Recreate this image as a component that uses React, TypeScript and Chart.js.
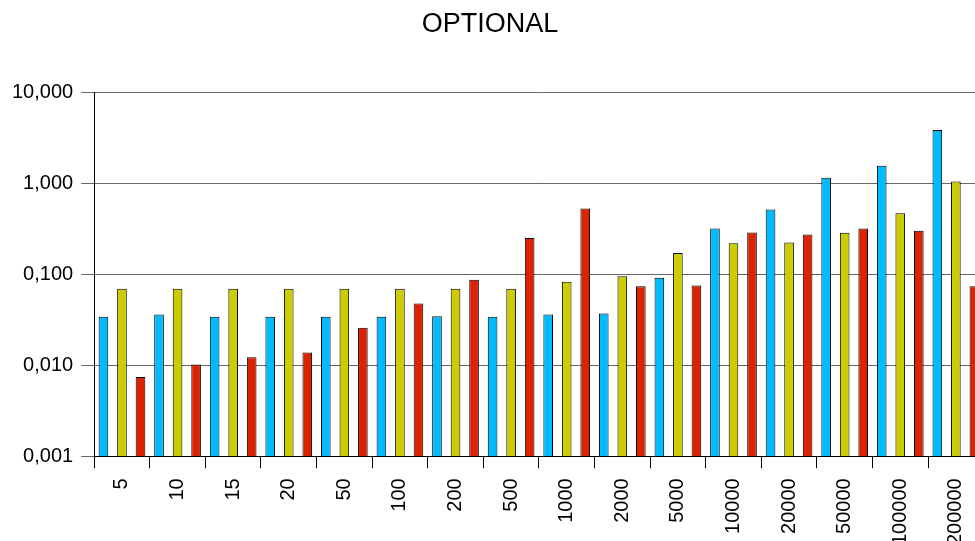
import React, { useEffect, useRef } from "react";
import { Chart, registerables } from "chart.js";

Chart.register(...registerables);

const categories = ["5", "10", "15", "20", "50", "100", "200", "500", "1000", "2000", "5000", "10000", "20000", "50000", "100000", "200000"];
const seriesBlue = [0.034, 0.036, 0.034, 0.034, 0.034, 0.034, 0.0345, 0.034, 0.036, 0.037, 0.091, 0.318, 0.514, 1.143, 1.549, 3.82];
const seriesYellow = [0.069, 0.069, 0.069, 0.069, 0.069, 0.069, 0.069, 0.069, 0.0824, 0.095, 0.171, 0.219, 0.223, 0.284, 0.465, 1.043];
const seriesRed = [0.0074, 0.0102, 0.0122, 0.0138, 0.0257, 0.0476, 0.0867, 0.25, 0.527, 0.0738, 0.0751, 0.287, 0.273, 0.318, 0.299, 0.0738];
const yTicks = [0.001, 0.01, 0.1, 1, 10];
const title = "OPTIONAL";

const FONT = "'Liberation Sans', Arial, sans-serif";

export default function App() {
  const ref = useRef<HTMLCanvasElement | null>(null);

  useEffect(() => {
    if (!ref.current) return;
    const mk = (label: string, data: number[], color: string) => ({
      label,
      data,
      backgroundColor: color,
      borderColor: "#000000",
      borderWidth: 1,
      categoryPercentage: 1,
      barPercentage: 0.52,
    });
    const chart = new Chart(ref.current, {
      type: "bar",
      data: {
        labels: categories,
        datasets: [
          mk("A", seriesBlue, "#00BBFF"),
          mk("B", seriesYellow, "#CCCC00"),
          mk("C", seriesRed, "#DD2200"),
        ],
      },
      options: {
        responsive: false,
        animation: false,
        layout: { padding: { top: 92, left: 4, right: 4.5, bottom: 0 } },
        plugins: {
          legend: { display: false },
          tooltip: { enabled: false },
          title: { display: false },
        },
        scales: {
          x: {
            offset: true,
            grid: {
              display: true,
              offset: true,
              drawOnChartArea: false,
              drawTicks: true,
              tickLength: 12,
              color: "#000000",
            },
            border: { display: true, color: "#000000", width: 1 },
            ticks: {
              autoSkip: false,
              minRotation: 90,
              maxRotation: 90,
              padding: 10,
              color: "#000000",
              font: { family: FONT, size: 20 },
            },
          },
          y: {
            type: "logarithmic",
            min: 0.001,
            max: 10,
            afterBuildTicks: (axis: any) => {
              axis.ticks = yTicks.map((v) => ({ value: v, major: true }));
            },
            grid: {
              color: "#666666",
              lineWidth: 1,
              drawTicks: true,
              tickLength: 13,
            },
            border: { display: true, color: "#000000", width: 1 },
            ticks: {
              padding: 8,
              color: "#000000",
              font: { family: FONT, size: 20 },
              callback: (v: any) => Number(v).toFixed(3).replace(".", ","),
            },
          },
        },
      },
    } as any);
    return () => chart.destroy();
  }, []);

  return (
    <div
      style={{
        position: "fixed",
        left: 0,
        top: 0,
        width: 975,
        height: 541,
        overflow: "hidden",
        background: "#ffffff",
      }}
    >
      <div
        style={{
          position: "absolute",
          left: 0,
          top: 8,
          width: 980,
          textAlign: "center",
          fontFamily: FONT,
          fontSize: 27,
          lineHeight: "30px",
          color: "#000000",
        }}
      >
        {title}
      </div>
      <canvas ref={ref} width={990} height={555} style={{ display: "block" }} />
    </div>
  );
}
